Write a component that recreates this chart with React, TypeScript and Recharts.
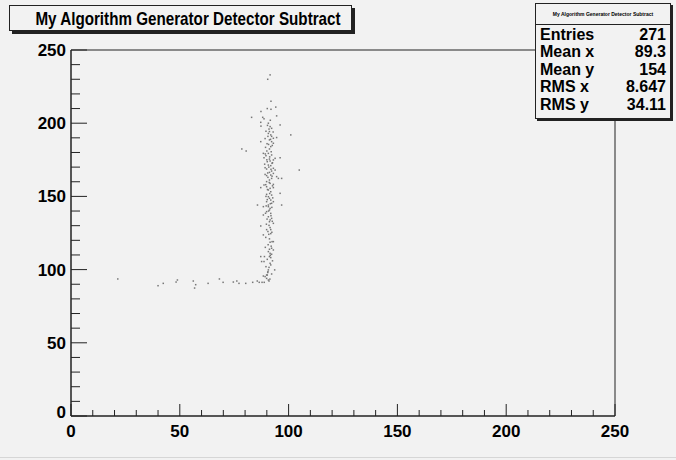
import { ReferenceArea, Scatter, ScatterChart, XAxis, YAxis } from 'recharts'

const AXIS_TICKS = [0, 10, 20, 30, 40, 50, 60, 70, 80, 90, 100, 110, 120, 130, 140, 150, 160, 170, 180, 190, 200, 210, 220, 230, 240, 250]
const MAJOR_TICKS = [0, 50, 100, 150, 200, 250]

const TITLE = 'My Algorithm Generator Detector Subtract'

const STATS_LABELS = ['Entries', 'Mean x', 'Mean y', 'RMS x', 'RMS y']
const STATS_VALUES = ['271', '89.3', '154', '8.647', '34.11']

// horizontal tail around y ~ 90
const tailPts: [number, number][] = [
  [21.5, 93.6], [40, 89], [42.4, 90.6], [48.3, 91.5], [48.9, 92.9], [56.2, 92.2],
  [57.3, 89.7], [56.8, 87.4], [63, 90.6], [68.2, 93.6], [69.9, 91.3], [74.6, 91.5],
  [76.2, 92.2], [77.2, 90.6], [80.3, 90.6], [83.5, 91.3], [85.6, 92.2], [86.5, 91.3],
  [87.8, 91.3], [88.8, 91.3], [88.4, 95.6], [89.9, 96.3], [90.5, 98.6], [91, 92.2],
]

// vertical band near x ~ 90
const clusterPts: [number, number][] = [
  [91.5, 233], [90.4, 230], [91.9, 215], [94.1, 211], [90.2, 210], [91.9, 209.5],
  [87.3, 208], [83.0, 204], [88.1, 204], [88.7, 203], [94.5, 205], [91.6, 202],
  [87.2, 200.6], [87.3, 198], [96.1, 198.8], [90.7, 200], [91.5, 197.7], [92.2, 196.5],
  [91.2, 194.3], [90.7, 193], [91.8, 192], [92.2, 191], [93, 189.7], [94.5, 190.2],
  [101, 192], [91.2, 188.6], [92.2, 187.4], [93, 186.3], [87.2, 187.4],
  [78.5, 182.4], [80.5, 181], [91.8, 184], [91.2, 182.4], [90, 181], [90.7, 179.4],
  [88.4, 179.4], [89.6, 177.8], [92.2, 178.3], [88.7, 176.4], [91.2, 175.5], [91.5, 174.2],
  [90.2, 173.7], [93, 174.9], [93.8, 176], [96.1, 176.4], [92.4, 172.6], [90.7, 171.4],
  [91.8, 171], [89.2, 169.6], [89.9, 168.7], [93, 169.2], [93.8, 168], [92.2, 167.3],
  [91.2, 166.4], [93, 165.7], [91.8, 164.6], [89.9, 164.2], [94.5, 163.5], [96.8, 162.3],
  [95.3, 162.3], [104.9, 168], [92.2, 162.3], [91.2, 161.2], [89.9, 160.1], [91.5, 158.9],
  [93, 158.2], [88.7, 157.8], [87.2, 156], [89.9, 156.6], [91.5, 155.5], [93, 156],
  [96.1, 152.1], [90.7, 154.4], [91.8, 153.2], [89.9, 151.4], [92.2, 150.9], [90.7, 149.8],
  [91.2, 148.7], [91.8, 147.5], [89.9, 146.4], [93, 146.4], [92.2, 145.3], [90.7, 144.1],
  [85.7, 144.1], [88.4, 143], [90.7, 143], [96.8, 144.1], [91.5, 141.8], [91.2, 140.7],
  [89.9, 139.6], [88.4, 137.3], [91.8, 138.4], [90.7, 136.1], [92.2, 135], [91.5, 133.9],
  [91.2, 132.7], [93, 131.6],
  [87.2, 129.8], [91.5, 128.7], [89.9, 127.3], [91.8, 127.3], [88.4, 123.7], [90.9, 124.1],
  [91.8, 124.6], [92.4, 119.1], [91.5, 118.7], [93, 119.1], [92.2, 114.6], [91.2, 113.9],
  [93, 113.4], [90.7, 112.3], [91.5, 111.1], [92.2, 110.5], [87.2, 108.9], [88.9, 108.9],
  [91.2, 108.9], [91.8, 108.2], [87.6, 105.5], [88.7, 105.5], [91.5, 104.3], [91.8, 103.2],
  [90.7, 99.8], [93.6, 99.8], [89.2, 95.2], [90.2, 96.3], [90.7, 92.9],
  [90.3, 198.5], [91.0, 196], [89.6, 194.5], [92.9, 194], [90.5, 191], [89.2, 189.5],
  [91.7, 189], [90.1, 186], [92.5, 184.8], [89.4, 183.5], [90.8, 185.5], [92.0, 180.5],
  [89.3, 179], [91.3, 177], [90.0, 175], [92.6, 173], [89.0, 172], [90.9, 170],
  [91.9, 168.5], [90.4, 166], [89.2, 165], [92.4, 163.8], [90.5, 163], [91.1, 159.5],
  [89.5, 158], [92.6, 157.2], [90.3, 154.7], [91.3, 152], [89.6, 150], [92.7, 149],
  [90.2, 147.8], [91.6, 145], [89.7, 143.5], [92.3, 142.5], [90.8, 140], [89.4, 138.5],
  [91.9, 136.8], [90.1, 134.5], [92.5, 133], [89.8, 131], [91.0, 130.2], [90.5, 126],
  [92.3, 125.5], [89.5, 122], [91.2, 121], [90.6, 117], [92.0, 116], [89.3, 115.2],
  [91.6, 109.8], [90.2, 107], [92.6, 106], [89.6, 102], [91.0, 101.5], [90.4, 98],
  [92.2, 97], [89.9, 94], [91.4, 93.5],
]

const points = [...tailPts, ...clusterPts].map(([x, y]) => ({ x, y }))

const FONT = '"Liberation Sans", Arial, Helvetica, sans-serif'

function Dot(props: any) {
  const { cx, cy } = props
  if (cx == null || cy == null) return null
  return <rect x={cx - 0.75} y={cy - 0.75} width={1.5} height={1.5} fill="#777" />
}

function XTick(props: any) {
  const { x, y, payload } = props
  const major = MAJOR_TICKS.includes(payload.value)
  return (
    <g>
      <line x1={x} y1={y} x2={x} y2={y - (major ? 12 : 6)} stroke="#222" />
      {major && (
        <text x={x} y={y + 21} textAnchor="middle" fontFamily={FONT} fontWeight="bold" fontSize={17} fill="#000">
          {payload.value}
        </text>
      )}
    </g>
  )
}

function YTick(props: any) {
  const { x, y, payload } = props
  const major = MAJOR_TICKS.includes(payload.value)
  return (
    <g>
      <line x1={x} y1={y} x2={x + (major ? 16 : 9)} y2={y} stroke="#222" />
      {major && (
        <text x={x - 5} y={y + (payload.value === 0 ? 2 : 6)} textAnchor="end" fontFamily={FONT} fontWeight="bold" fontSize={17} fill="#000">
          {payload.value}
        </text>
      )}
    </g>
  )
}

export default function App() {
  return (
    <div style={{ position: 'absolute', left: 0, top: 0, width: 676, height: 460, background: '#f2f2f2', fontFamily: FONT }}>
      <ScatterChart width={676} height={460} margin={{ top: 50, right: 61, left: 21, bottom: 14 }}>
        <XAxis
          type="number"
          dataKey="x"
          domain={[0, 250]}
          ticks={AXIS_TICKS}
          interval={0}
          tickSize={0}
          tickMargin={0}
          tickLine={false}
          height={30}
          axisLine={{ stroke: '#222' }}
          tick={<XTick />}
          allowDataOverflow
        />
        <YAxis
          type="number"
          dataKey="y"
          domain={[0, 250]}
          ticks={AXIS_TICKS}
          interval={0}
          tickSize={0}
          tickMargin={0}
          tickLine={false}
          width={50}
          axisLine={{ stroke: '#222' }}
          tick={<YTick />}
          allowDataOverflow
        />
        <ReferenceArea x1={0} x2={250} y1={0} y2={250} fill="none" fillOpacity={0} stroke="#222" strokeWidth={1} />
        <Scatter data={points} shape={<Dot />} isAnimationActive={false} />
      </ScatterChart>

      {/* faint canvas edge at the bottom */}
      <div style={{ position: 'absolute', left: 0, top: 457, width: 676, height: 1, background: '#d6d6d6' }} />

      {/* title box */}
      <div
        style={{
          position: 'absolute', left: 9, top: 5, width: 341, height: 24,
          background: '#f2f2f2', border: '1px solid #222', boxShadow: '3px 3px 0 #222',
          color: '#000', overflow: 'hidden',
        }}
      >
        <div
          style={{
            position: 'absolute', left: 178, top: 0, transform: 'translateX(-50%) scaleX(0.8)',
            fontWeight: 'bold', fontSize: 19, lineHeight: '25px', whiteSpace: 'nowrap',
          }}
        >
          {TITLE}
        </div>
      </div>

      {/* stats box */}
      <div
        style={{
          position: 'absolute', left: 535, top: 3, width: 134, height: 114,
          background: '#f2f2f2', border: '1px solid #222', boxShadow: '2px 2px 0 #222', color: '#000',
        }}
      >
        <div style={{ height: 20, borderBottom: '1px solid #222', fontSize: 5, fontWeight: 'bold', lineHeight: '20px', textAlign: 'center', whiteSpace: 'nowrap' }}>
          {TITLE}
        </div>
        {STATS_LABELS.map((label, i) => (
          <div key={label} style={{ display: 'flex', justifyContent: 'space-between', padding: '0 4px', height: 17.4, lineHeight: '20px', fontSize: 16, fontWeight: 'bold' }}>
            <span>{label}</span>
            <span>{STATS_VALUES[i]}</span>
          </div>
        ))}
      </div>
    </div>
  )
}
